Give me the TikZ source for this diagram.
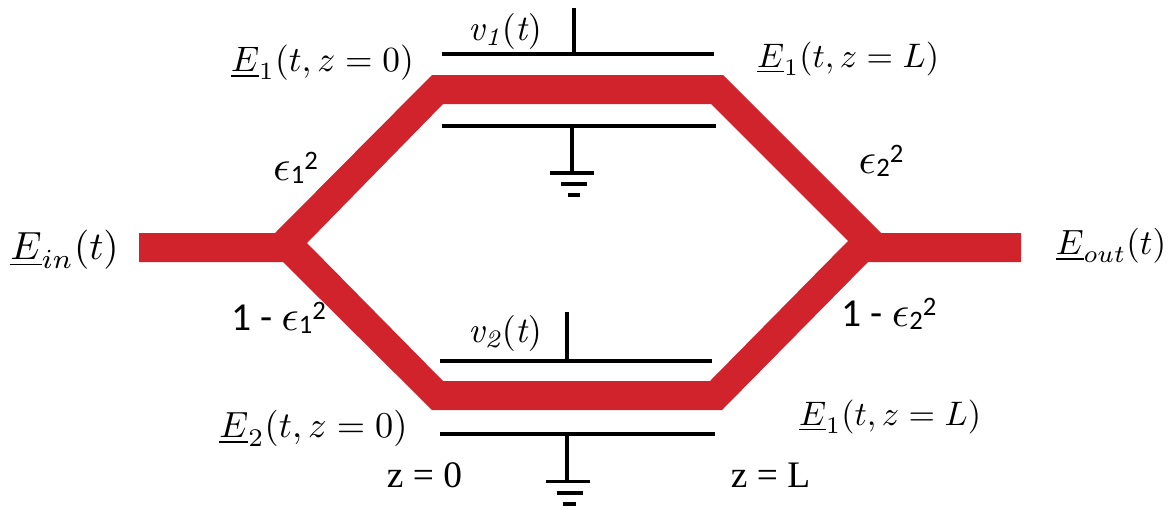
\documentclass[tikz,border=0pt]{standalone}
\usepackage{fontspec}
\newfontfamily\labelfont{Carlito}
\newfontfamily\zfont{Liberation Serif}
\newcommand{\epslabel}[3]{{\labelfont\fontsize{11}{12}\selectfont #1}\scalebox{1.2}{$\epsilon$}\raisebox{-0.9pt}{\labelfont\fontsize{7.4}{8}\selectfont #2}\raisebox{2.8pt}{\labelfont\fontsize{7.4}{8}\selectfont #3}}
\definecolor{guidered}{HTML}{D0232C}
\tikzset{
  guide/.style={fill=guidered,draw=none,even odd rule},
  plate/.style={draw=black,line width=3.6pt},
  stub/.style={draw=black,line width=3.6pt},
  gnd/.style={draw=black,line width=3.4pt},
  lab/.style={inner sep=0pt,anchor=base,scale=3.4},
  epslab/.style={inner sep=0pt,anchor=base,scale=3.6}
}
\begin{document}
\begin{tikzpicture}[x=1pt,y=-1pt]
\useasboundingbox (0,0) rectangle (1174,509);
% waveguide
\path[guide] (139,233) -- (275,233) -- (432,75) -- (723,75) -- (881,233) -- (1021,233) -- (1021,262) -- (868,262) -- (722,410) -- (432,410) -- (283,262) -- (139,262) -- cycle
  (307,243) -- (443,104) -- (711,104) -- (848,241) -- (710,381) -- (443,381) -- cycle;
% top electrodes
\coordinate (p1a) at (442,54); \coordinate (p1b) at (714,54);
\coordinate (s1t) at (574,8);  \coordinate (s1b) at (574,54);
\draw[plate] (p1a) -- (p1b);
\draw[stub] (s1t) -- (s1b);
\coordinate (p2a) at (442,126); \coordinate (p2b) at (716,126);
\coordinate (g1t) at (572,126); \coordinate (g1b) at (572,173);
\draw[plate] (p2a) -- (p2b);
\draw[stub] (g1t) -- (g1b);
\draw[gnd] (550,173) -- (594,173);
\draw[gnd] (561,184) -- (587,184);
\draw[gnd] (568,195) -- (580,195);
% bottom electrodes
\coordinate (p3a) at (440,361); \coordinate (p3b) at (712,361);
\coordinate (s2t) at (567,312); \coordinate (s2b) at (567,361);
\draw[plate] (p3a) -- (p3b);
\draw[stub] (s2t) -- (s2b);
\coordinate (p4a) at (440,434); \coordinate (p4b) at (715,434);
\coordinate (g2t) at (567,434); \coordinate (g2b) at (567,482);
\draw[plate] (p4a) -- (p4b);
\draw[stub] (g2t) -- (g2b);
\draw[gnd] (546,481.5) -- (590,481.5);
\draw[gnd] (557,493) -- (583,493);
\draw[gnd] (563,504) -- (576,504);
% labels
\node[lab,scale=1.04] (e10) at (322.5,71) {$\underline{E}_1(t,z=0)$};
\node[lab] (e1L) at (848,67) {$\underline{E}_1(t,z=L)$};
\node[lab,scale=1.155] (ein) at (64.5,259) {$\underline{E}_{in}(t)$};
\node[lab,scale=1.03] (eout) at (1111,254) {$\underline{E}_{out}(t)$};
\node[lab,scale=1.07] (e20) at (313.5,437) {$\underline{E}_2(t,z=0)$};
\node[lab] (e1Lb) at (890,425) {$\underline{E}_1(t,z=L)$};
\node[lab,scale=1.06] (v1) at (505,40) {$\mathit{v_1(t)}$};
\node[lab,scale=1.06] (v2) at (505,342) {$\mathit{v_2(t)}$};
\node[epslab] (eps1) at (295.5,180) {\epslabel{}{1}{2}};
\node[epslab] (eps2) at (881,173) {\epslabel{}{2}{2}};
\node[epslab] (eps1c) at (278.5,330) {\epslabel{1 - }{1}{2}};
\node[epslab] (eps2c) at (889,326) {\epslabel{1 - }{2}{2}};
\node[lab,scale=1.1] (z0) at (424.5,487) {\zfont z = 0};
\node[lab,scale=1.1] (zL) at (770.5,487) {\zfont z = L};
\end{tikzpicture}
\end{document}
